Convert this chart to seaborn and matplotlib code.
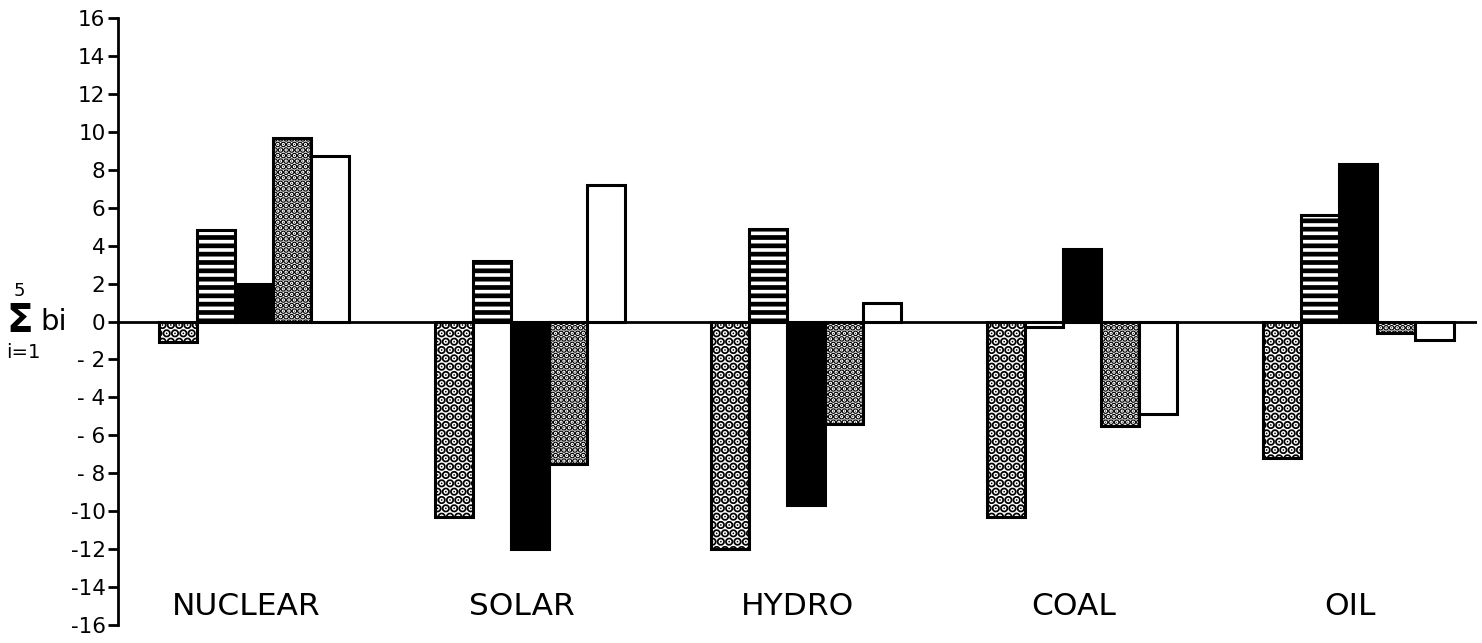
import numpy as np
import pandas as pd
import matplotlib
matplotlib.use("Agg")
import matplotlib.pyplot as plt
import seaborn as sns

sns.set_theme(style="white")
plt.rcParams['font.family'] = ['DejaVu Sans']
plt.rcParams['text.color'] = 'black'
plt.rcParams['hatch.linewidth'] = 3.0
plt.rcParams['hatch.color'] = 'black'

# values (sum of b_i per energy source, five series)
sources = ['NUCLEAR', 'SOLAR', 'HYDRO', 'COAL', 'OIL']
series_names = ['s1', 's2', 's3', 's4', 's5']
s1 = [-1.1, -10.3, -12.0, -10.3, -7.2]   # staggered dots
s2 = [4.8, 3.2, 4.9, -0.3, 5.6]          # horizontal lines
s3 = [2.0, -12.0, -9.7, 3.8, 8.3]        # solid black
s4 = [9.7, -7.5, -5.4, -5.5, -0.6]       # dense dots
s5 = [8.7, 7.2, 1.0, -4.9, -1.0]         # open

y_ticks = list(range(-16, 17, 2))
y_labels = ['-16', '-14', '-12', '-10', '- 8', '- 6', '- 4', '- 2', '0',
            '2', '4', '6', '8', '10', '12', '14', '16']

rows = []
for name, vals in zip(series_names, [s1, s2, s3, s4, s5]):
    for src, v in zip(sources, vals):
        rows.append({'source': src, 'series': name, 'value': v})
df = pd.DataFrame(rows)

W, H = 1482, 643
fig = plt.figure(figsize=(W / 100, H / 100), dpi=100)
ax = fig.add_axes([118 / W, 1 - 625 / H, (1477 - 118) / W, (625 - 18) / H])

fills = ['white', 'white', 'black', 'white', 'white']
hatches = ['..', '--', '', '...', '']
hatch_lw = [4.6, 3.4, 1.0, 3.2, 1.0]
sns.barplot(data=df, x='source', y='value', hue='series', order=sources,
            hue_order=series_names, palette=fills, saturation=1, width=0.69,
            edgecolor='black', linewidth=2.2, legend=False, ax=ax)

for cont, h, hlw in zip(ax.containers, hatches, hatch_lw):
    for bar in cont:
        bar.set_hatch(h)
        bar.set_edgecolor('black')
        if hasattr(bar, 'set_hatch_linewidth'):
            bar.set_hatch_linewidth(hlw)

ax.axhline(0, color='black', lw=2, zorder=5)
ax.set_xlim(-0.493, 4.43)
ax.set_ylim(-16, 16)

ax.set_xticks([])
ax.set_xlabel('')
ax.set_ylabel('')
for i, src in enumerate(sources):
    ax.text(i - 0.03, -15.0, src, ha='center', va='center', fontsize=22.5,
            color='black')

ax.set_yticks(y_ticks)
ax.set_yticklabels(y_labels, fontsize=15.5, color='black')
ax.tick_params(axis='y', direction='out', length=7, width=2, color='black', pad=2, left=True)

for side in ['top', 'right', 'bottom']:
    ax.spines[side].set_visible(False)
ax.spines['left'].set_color('black')
ax.spines['left'].set_linewidth(2)

# summation label on the left
fig.text(19 / W, 1 - 291 / H, '5', ha='center', va='center', fontsize=13, color='black')
fig.text(20 / W, 1 - 332 / H, '\u03a3', ha='center', va='baseline', fontsize=28,
         fontweight='bold', color='black')
fig.text(40 / W, 1 - 330 / H, 'bi', ha='left', va='baseline', fontsize=21, color='black')
fig.text(23 / W, 1 - 352 / H, 'i=1', ha='center', va='center', fontsize=14, color='black')

fig.savefig('out.png', dpi=100, facecolor='white')
